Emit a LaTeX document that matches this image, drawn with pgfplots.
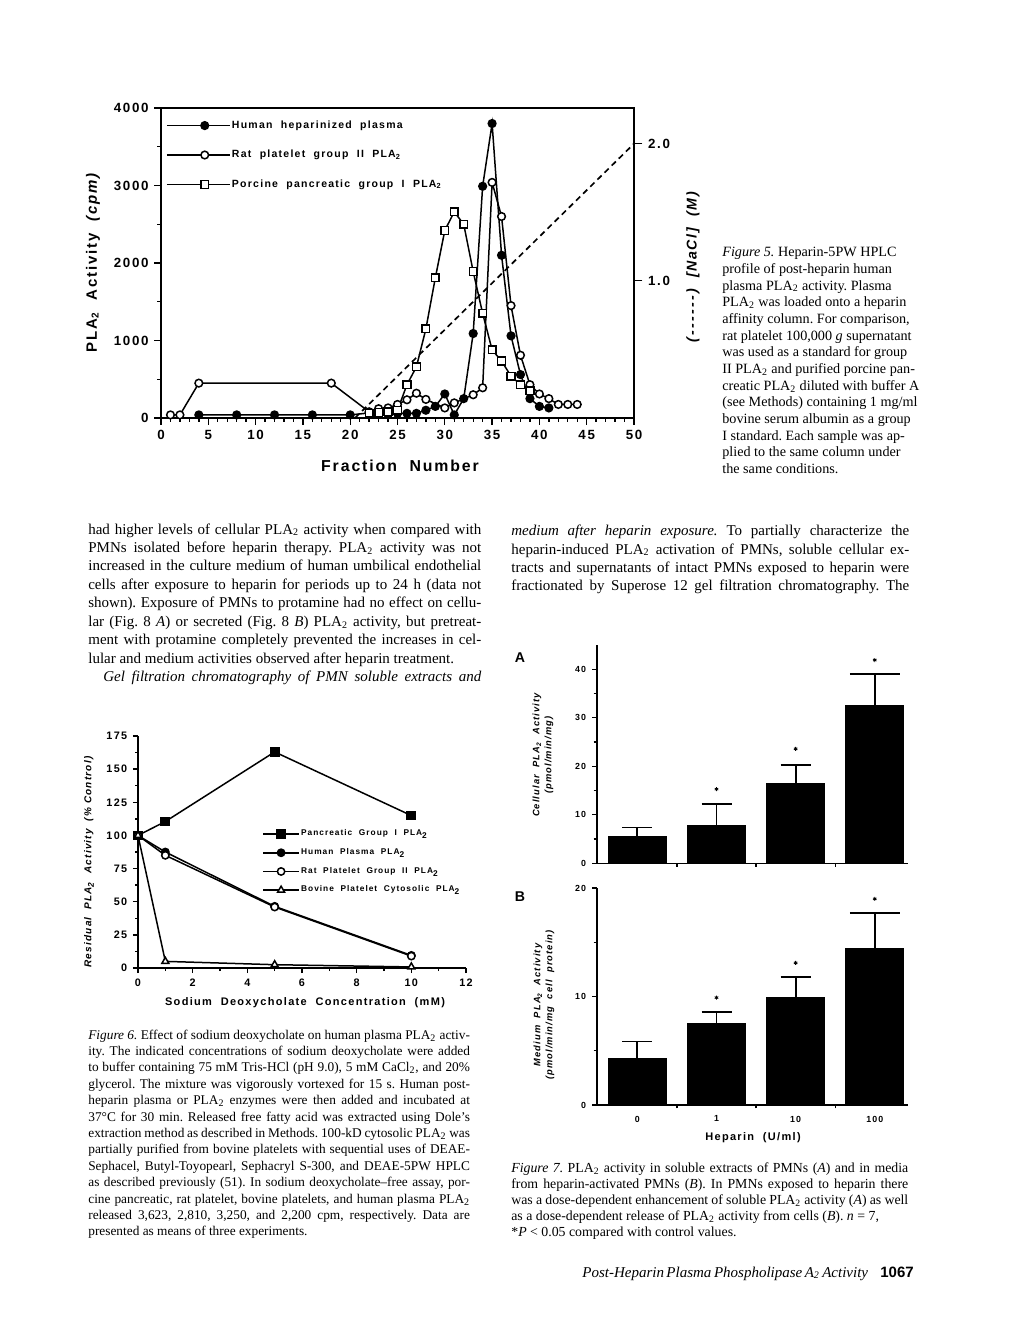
\documentclass[border=0pt]{standalone}
\usepackage{fontspec}
\setmainfont{Liberation Serif}
\newfontfamily\cf[LetterSpace=12.0]{Liberation Sans}
\newfontfamily\cfn{Liberation Sans}
\usepackage{pgfplots}
\pgfplotsset{compat=1.18}
\frenchspacing
\newcommand{\tw}{\textsubscript{2}}
\newcommand{\JL}[4]{\node[anchor=base west,inner sep=0pt] at (#1,#2) {\makebox[#3][s]{#4}};}
\newcommand{\LL}[3]{\node[anchor=base west,inner sep=0pt] at (#1,#2) {#3};}
\begin{document}
\begin{tikzpicture}
\fill[white] (0,0) rectangle (612pt,-792pt);
\path[use as bounding box] (0,0) rectangle (612pt,-792pt);

% ================= FIGURE 5 =================
\begin{axis}[
  at={(96.6pt,-250.8pt)}, anchor=south west, scale only axis,
  width=283.8pt, height=186pt,
  xmin=0, xmax=50, ymin=0, ymax=4000,
  xtick={0,5,...,50}, ytick={0,1000,...,4000},
  minor x tick num=4, minor y tick num=1,
  xtick pos=left, ytick pos=left, tick align=outside,
  major tick length=4pt, minor tick length=2.2pt,
  tick style={line width=0.8pt, black},
  axis line style={line width=1pt},
  tick label style={font=\cf\bfseries\fontsize{8}{9}\selectfont},
  /pgf/number format/assume math mode=true, /pgf/number format/1000 sep={},
  clip=false,
  legend style={at={(0.01,0.965)}, anchor=north west, draw=none, fill=none,
     font=\cf\bfseries\fontsize{6.3}{7}\selectfont, row sep=10pt, inner sep=0pt,
     nodes={inner sep=0.8pt}, cells={anchor=west}},
  legend image code/.code={\draw[mark repeat=2,mark phase=2,#1] plot coordinates {(0cm,0cm) (0.8cm,0cm) (1.33cm,0cm)};},
]
\addplot[black, line width=0.9pt, mark=*, mark size=2.3pt, mark options={fill=black, solid}] coordinates {
(4,40)(8,40)(12,40)(16,40)(20,40)(22,65)(23,45)(24,45)(25,60)(26,60)(27,60)(28,100)(29,150)(30,310)(31,40)(32,250)(33,1090)(34,2990)(35,3800)(36,2100)(37,1060)(38,560)(39,250)(40,150)(41,130)};
\addlegendentry{Human~~heparinized~~plasma}
\addplot[black, line width=0.9pt, mark=*, mark size=2.3pt, mark options={fill=white, solid}] coordinates {
(1,40)(2,40)(4,450)(18,450)(22,80)(23,120)(24,130)(25,175)(26,235)(27,320)(28,240)(30,130)(31,195)(33,300)(34,390)(35,3040)(36,2600)(37,1450)(38,810)(39,430)(40,310)(41,250)(42,175)(43,175)(44,175)};
\addlegendentry{Rat~~platelet~~group~~II~~PLA\tw}
\addplot[black, line width=0.9pt, mark=square*, mark size=2.3pt, mark options={fill=white, solid}] coordinates {
(22,60)(23,70)(24,80)(25,100)(26,430)(27,660)(28,1150)(29,1810)(30,2420)(31,2660)(32,2500)(33,1890)(34,1350)(35,880)(36,735)(37,540)(38,430)(39,350)};
\addlegendentry{Porcine~~pancreatic~~group~~I~~PLA\tw}
\end{axis}
\begin{axis}[
  at={(96.6pt,-250.8pt)}, anchor=south west, scale only axis,
  width=283.8pt, height=186pt,
  xmin=0, xmax=50, ymin=0, ymax=2.26,
  axis x line=none, axis y line*=right,
  ytick={1,2}, yticklabels={1.0,2.0}, tick align=outside,
  major tick length=5pt, tick style={line width=0.8pt, black},
  axis line style={line width=1pt},
  tick label style={font=\cf\bfseries\fontsize{8}{9}\selectfont},
  clip=false,
]
\addplot[black, line width=1pt, dash pattern=on 3.5pt off 2.5pt] coordinates {(20.5,0)(50,2)};
\end{axis}

% ================= FIGURE 6 =================
\begin{axis}[
  at={(82.8pt,-580.8pt)}, anchor=south west, scale only axis,
  width=196.8pt, height=139.2pt,
  xmin=0, xmax=12, ymin=0, ymax=175,
  axis x line=bottom, axis y line=left, axis line style={-, line width=1pt},
  xtick={0,2,...,12}, ytick={0,25,...,175},
  minor x tick num=1, minor y tick num=1, tick align=outside,
  major tick length=3pt, minor tick length=1.8pt,
  tick style={line width=0.8pt, black},
  tick label style={font=\cf\bfseries\fontsize{6.5}{7}\selectfont},
  /pgf/number format/assume math mode=true,
  clip=false,
  legend style={at={(0.378,0.603)}, anchor=north west, draw=none, fill=none,
     font=\cf\bfseries\fontsize{5}{6}\selectfont, row sep=4.5pt, inner sep=0pt,
     nodes={inner sep=0.8pt}, cells={anchor=west}},
  legend image code/.code={\draw[mark repeat=2,mark phase=2,#1] plot coordinates {(0cm,0cm) (0.38cm,0cm) (0.76cm,0cm)};},
]
\addplot[black, line width=0.9pt, mark=square*, mark size=2.5pt, mark options={fill=black, solid}] coordinates {(0,100)(1,110.5)(5,163)(10,115)};
\addlegendentry{Pancreatic~~Group~~I~~PLA\tw}
\addplot[black, line width=0.9pt, mark=*, mark size=2.2pt, mark options={fill=black, solid}] coordinates {(0,100)(1,87.5)(5,46.5)(10,9.5)};
\addlegendentry{Human~~Plasma~~PLA\tw}
\addplot[black, line width=0.9pt, mark=*, mark size=2.2pt, mark options={fill=white, solid}] coordinates {(0,100)(1,85)(5,46)(10,9)};
\addlegendentry{Rat~~Platelet~~Group~~II~~PLA\tw}
\addplot[black, line width=0.9pt, mark=triangle*, mark size=2.4pt, mark options={fill=white, solid}] coordinates {(0,100)(1,5)(5,2.5)(10,0.8)};
\addlegendentry{Bovine~~Platelet~~Cytosolic~~PLA\tw}
\end{axis}

% ================= FIGURE 7A =================
\begin{axis}[
  at={(358.2pt,-518pt)}, anchor=south west, scale only axis,
  width=186.6pt, height=131pt,
  xmin=-0.51, xmax=3.42, ymin=0, ymax=45,
  axis x line=bottom, axis y line=left, axis line style={-, line width=1pt},
  xtick={0,1,2,3}, xticklabels={}, minor xtick={0.5,1.5,2.5},
  major x tick style={draw=none},
  ytick={0,10,...,40}, minor y tick num=1, tick align=outside,
  major tick length=3pt, minor tick length=2pt,
  tick style={line width=0.8pt, black},
  tick label style={font=\cf\bfseries\fontsize{5.3}{6}\selectfont},
  /pgf/number format/assume math mode=true,
  clip=false,
]
\addplot[ybar, bar shift=0pt, bar width=34.8pt, fill=black, draw=black,
  error bars/.cd, y dir=plus, y explicit,
  error bar style={line width=1.1pt, black},
  error mark options={rotate=90, mark size=9pt, line width=1.1pt, black}]
  coordinates {(0,5.6) +- (0,1.8) (1,7.9) +- (0,4.4) (2,16.4) +- (0,3.8)};
\addplot[ybar, bar shift=0pt, bar width=34.8pt, fill=black, draw=black,
  error bars/.cd, y dir=plus, y explicit,
  error bar style={line width=1.1pt, black},
  error mark options={rotate=90, mark size=15pt, line width=1.1pt, black}]
  coordinates {(3,32.6) +- (0,6.4)};
\addplot[only marks, mark=asterisk, mark size=1.2pt, line width=0.5pt, black] coordinates {(1,15.3)(2,23.6)(3,41.9)};
\end{axis}

% ================= FIGURE 7B =================
\begin{axis}[
  at={(358.2pt,-663pt)}, anchor=south west, scale only axis,
  width=186.6pt, height=130.2pt,
  xmin=-0.51, xmax=3.42, ymin=0, ymax=20,
  axis x line=bottom, axis y line=left, axis line style={-, line width=1pt},
  xtick={0,1,2,3}, xticklabels={0,1,10,100}, minor xtick={0.5,1.5,2.5},
  major x tick style={draw=none},
  ytick={0,10,20}, minor y tick num=1, tick align=outside,
  major tick length=3pt, minor tick length=2pt,
  tick style={line width=0.8pt, black},
  tick label style={font=\cf\bfseries\fontsize{5.3}{6}\selectfont},
  /pgf/number format/assume math mode=true,
  clip=false,
]
\addplot[ybar, bar shift=0pt, bar width=34.8pt, fill=black, draw=black,
  error bars/.cd, y dir=plus, y explicit,
  error bar style={line width=1.1pt, black},
  error mark options={rotate=90, mark size=9pt, line width=1.1pt, black}]
  coordinates {(0,4.3) +- (0,1.55) (1,7.5) +- (0,1.05) (2,9.9) +- (0,1.9)};
\addplot[ybar, bar shift=0pt, bar width=34.8pt, fill=black, draw=black,
  error bars/.cd, y dir=plus, y explicit,
  error bar style={line width=1.1pt, black},
  error mark options={rotate=90, mark size=15pt, line width=1.1pt, black}]
  coordinates {(3,14.4) +- (0,3.3)};
\addplot[only marks, mark=asterisk, mark size=1.2pt, line width=0.5pt, black] coordinates {(1,9.9)(2,13.1)(3,19.0)};
\end{axis}

% ================= TEXT =================
\begin{scope}[x=0.6pt,y=-0.6pt]
% figure 5 labels
\node[font=\cf\bfseries\fontsize{9.5}{11}\selectfont] at (400,466) {Fraction~~Number};
\node[rotate=90,font=\cf\bfseries\fontsize{9}{11}\selectfont] at (93,262) {PLA\tw~~Activity~~\textit{(cpm)}};
\node[rotate=90,font=\cf\bfseries\itshape\fontsize{8.5}{10}\selectfont] at (693,267) {(-\,-\,-\,-\,-\,-)~~[NaCl]~~(M)};
% figure 6 labels
\node[font=\cf\bfseries\fontsize{6.6}{8}\selectfont] at (305,1003) {Sodium~~Deoxycholate~~Concentration~~(mM)};
\node[rotate=90,font=\cf\bfseries\itshape\fontsize{6}{7}\selectfont] at (89,862) {Residual~~PLA\tw~~Activity~~(\%~Control)};
% figure 7 labels
\node[font=\cfn\bfseries\fontsize{8.5}{10}\selectfont] at (520,658) {A};
\node[font=\cfn\bfseries\fontsize{8.5}{10}\selectfont] at (520,897) {B};
\node[rotate=90,align=center,font=\cf\bfseries\itshape\fontsize{5.6}{7.2}\selectfont] at (543,755) {Cellular~~PLA\tw~~Activity\\(pmol/min/mg)};
\node[rotate=90,align=center,font=\cf\bfseries\itshape\fontsize{5.6}{7.2}\selectfont] at (544,1005) {Medium~~PLA\tw~~Activity\\(pmol/min/mg~~cell~~protein)};
\node[font=\cf\bfseries\fontsize{6.6}{8}\selectfont] at (753,1138) {Heparin~~(U/ml)};

% figure 5 caption
\begin{scope}[font=\fontsize{8.5}{10}\selectfont]
\LL{722}{256.7}{\textit{Figure 5.} Heparin-5PW HPLC}
\LL{722}{273.4}{profile of post-heparin human}
\LL{722}{290.0}{plasma PLA\tw{} activity. Plasma}
\LL{722}{306.7}{PLA\tw{} was loaded onto a heparin}
\LL{722}{323.4}{affinity column. For comparison,}
\LL{722}{340.0}{rat platelet 100,000 \textit{g} supernatant}
\LL{722}{356.7}{was used as a standard for group}
\LL{722}{373.4}{II PLA\tw{} and purified porcine pan-}
\LL{722}{390.1}{creatic PLA\tw{} diluted with buffer A}
\LL{722}{406.7}{(see Methods) containing 1 mg/ml}
\LL{722}{423.4}{bovine serum albumin as a group}
\LL{722}{440.1}{I standard. Each sample was ap-}
\LL{722}{456.7}{plied to the same column under}
\LL{722}{473.4}{the same conditions.}
\end{scope}

% body text
\begin{scope}[font=\fontsize{9}{11}\selectfont]
\JL{88}{534.0}{235.8pt}{had higher levels of cellular PLA\tw{} activity when compared with}
\JL{88}{552.5}{235.8pt}{PMNs isolated before heparin therapy. PLA\tw{} activity was not}
\JL{88}{570.9}{235.8pt}{increased in the culture medium of human umbilical endothelial}
\JL{88}{589.4}{235.8pt}{cells after exposure to heparin for periods up to 24 h (data not}
\JL{88}{607.9}{235.8pt}{shown). Exposure of PMNs to protamine had no effect on cellu-}
\JL{88}{626.4}{235.8pt}{lar (Fig. 8 \textit{A}) or secreted (Fig. 8 \textit{B}) PLA\tw{} activity, but pretreat-}
\JL{88}{644.8}{235.8pt}{ment with protamine completely prevented the increases in cel-}
\LL{88}{663.3}{lular and medium activities observed after heparin treatment.}
\JL{103}{681.8}{226.8pt}{\textit{Gel filtration chromatography of PMN soluble extracts and}}
\JL{511}{535.7}{238.8pt}{\textit{medium after heparin exposure.} To partially characterize the}
\JL{511}{554.0}{238.8pt}{heparin-induced PLA\tw{} activation of PMNs, soluble cellular ex-}
\JL{511}{572.3}{238.8pt}{tracts and supernatants of intact PMNs exposed to heparin were}
\JL{511}{590.7}{238.8pt}{fractionated by Superose 12 gel filtration chromatography. The}
\end{scope}

% figure 6 caption
\begin{scope}[font=\fontsize{8}{10}\selectfont]
\JL{88}{1039.0}{229pt}{\textit{Figure 6.} Effect of sodium deoxycholate on human plasma PLA\tw{} activ-}
\JL{88}{1055.4}{229pt}{ity. The indicated concentrations of sodium deoxycholate were added}
\JL{88}{1071.8}{229pt}{to buffer containing 75 mM Tris-HCl (pH 9.0), 5 mM CaCl\tw, and 20\%}
\JL{88}{1088.2}{229pt}{glycerol. The mixture was vigorously vortexed for 15 s. Human post-}
\JL{88}{1104.6}{229pt}{heparin plasma or PLA\tw{} enzymes were then added and incubated at}
\JL{88}{1121.0}{229pt}{37°C for 30 min. Released free fatty acid was extracted using Dole's}
\JL{88}{1137.4}{229pt}{extraction method as described in Methods. 100-kD cytosolic PLA\tw{} was}
\JL{88}{1153.8}{229pt}{partially purified from bovine platelets with sequential uses of DEAE-}
\JL{88}{1170.2}{229pt}{Sephacel, Butyl-Toyopearl, Sephacryl S-300, and DEAE-5PW HPLC}
\JL{88}{1186.6}{229pt}{as described previously (51). In sodium deoxycholate--free assay, por-}
\JL{88}{1203.0}{229pt}{cine pancreatic, rat platelet, bovine platelets, and human plasma PLA\tw}
\JL{88}{1219.4}{229pt}{released 3,623, 2,810, 3,250, and 2,200 cpm, respectively. Data are}
\LL{88}{1235.8}{presented as means of three experiments.}
\end{scope}

% figure 7 caption
\begin{scope}[font=\fontsize{8.3}{10}\selectfont]
\JL{511}{1172.3}{238.2pt}{\textit{Figure 7.} PLA\tw{} activity in soluble extracts of PMNs (\textit{A}) and in media}
\JL{511}{1188.4}{238.2pt}{from heparin-activated PMNs (\textit{B}). In PMNs exposed to heparin there}
\JL{511}{1204.5}{238.2pt}{was a dose-dependent enhancement of soluble PLA\tw{} activity (\textit{A}) as well}
\LL{511}{1220.6}{as a dose-dependent release of PLA\tw{} activity from cells (\textit{B}). \textit{n} = 7,}
\LL{511}{1236.7}{*\textit{P} < 0.05 compared with control values.}
\end{scope}

% footer
\JL{582}{1277}{163pt}{\fontsize{9}{11}\selectfont\textit{Post-Heparin Plasma Phospholipase A\tw{} Activity}}
\LL{880}{1277}{\cfn\bfseries\fontsize{9}{11}\selectfont 1067}
\end{scope}
\end{tikzpicture}
\end{document}
